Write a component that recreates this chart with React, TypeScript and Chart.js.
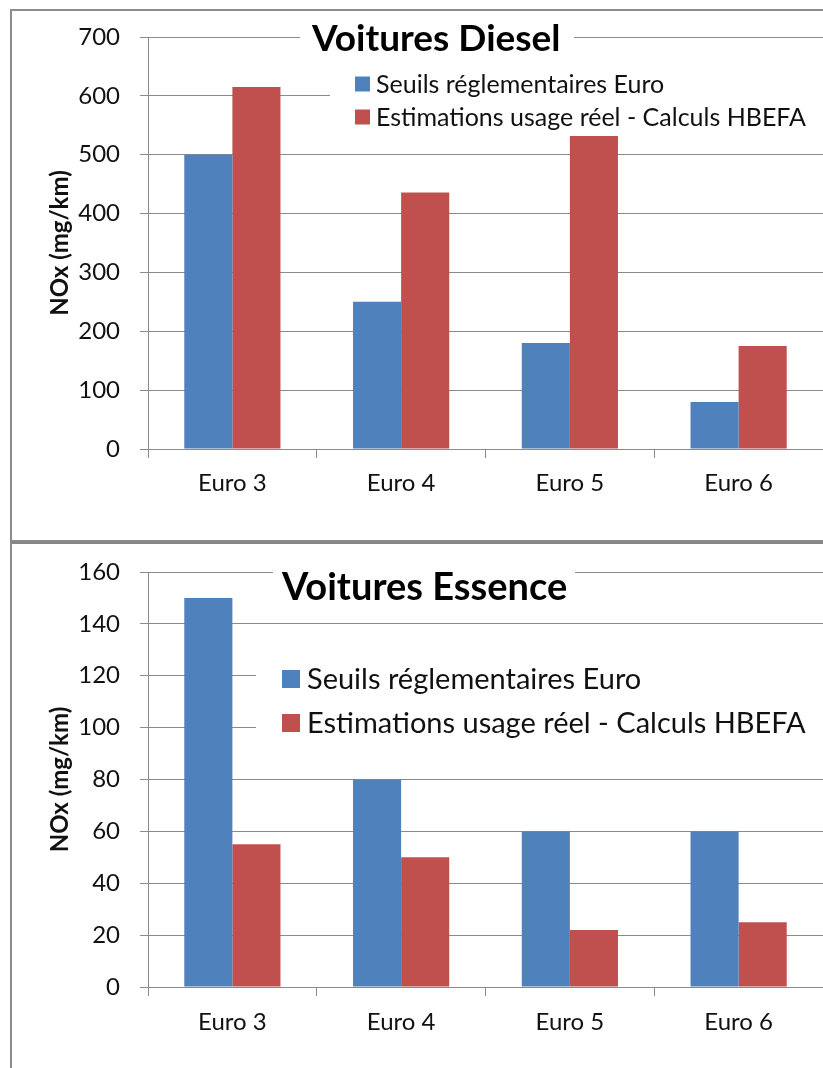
import React, { useEffect, useRef } from "react";
import { Chart, registerables } from "chart.js";

Chart.register(...registerables);

// ---- data ----
const categories = ["Euro 3", "Euro 4", "Euro 5", "Euro 6"];
const seriesNames = ["Seuils réglementaires Euro", "Estimations usage réel - Calculs HBEFA"];
const seriesColors = ["#4F81BD", "#C0504D"];
const dieselLimits = [500, 250, 180, 80];
const dieselReal = [615, 436, 532, 175];
const essenceLimits = [150, 80, 60, 60];
const essenceReal = [55, 50, 22, 25];
const dieselAxis = [0, 700, 100];
const essenceAxis = [0, 160, 20];
const axisTitle = "NOx (mg/km)";
const dieselTitle = "Voitures Diesel";
const essenceTitle = "Voitures Essence";

const FONT = "Lato, 'Noto Sans', sans-serif";
const GRID = "#8a8a8a";
const TEXT = "#111111";

type PanelProps = {
  canvasLeft: number;
  canvasTop: number;
  canvasWidth: number;
  canvasHeight: number;
  title: string;
  limits: number[];
  real: number[];
  axis: number[];
  plotTop: number;
  plotLeft: number;
  xHeight: number;
  xPad: number;
  titleBox: { x: number; y: number; w: number; h: number; tx: number; ty: number; size: number };
  legendBox: { x: number; y: number; w: number; h: number; sx: number; sq: number; ry: number; gap: number; tx: number; size: number };
};

function Panel(p: PanelProps) {
  const ref = useRef<HTMLCanvasElement>(null);
  useEffect(() => {
    if (!ref.current) return;
    const tb = p.titleBox;
    const lb = p.legendBox;
    const overlay = {
      id: "overlay",
      beforeDatasetsDraw(chart: any) {
        const ctx = chart.ctx as CanvasRenderingContext2D;
        ctx.save();
        ctx.fillStyle = "#ffffff";
        ctx.fillRect(tb.x, tb.y, tb.w, tb.h);
        ctx.fillRect(lb.x, lb.y, lb.w, lb.h);
        ctx.fillStyle = "#000000";
        ctx.font = `bold ${tb.size}px ${FONT}`;
        ctx.textBaseline = "alphabetic";
        ctx.textAlign = "left";
        ctx.fillText(p.title, tb.tx, tb.ty);
        ctx.font = `${lb.size}px ${FONT}`;
        ctx.textBaseline = "middle";
        chart.data.datasets.forEach((ds: any, i: number) => {
          const cy = lb.ry + i * lb.gap;
          ctx.fillStyle = ds.backgroundColor;
          ctx.fillRect(lb.sx, cy - lb.sq / 2, lb.sq, lb.sq);
          ctx.fillStyle = TEXT;
          ctx.fillText(ds.label, lb.tx, cy + 1);
        });
        ctx.restore();
      },
    };
    const chart = new Chart(ref.current, {
      type: "bar",
      data: {
        labels: categories,
        datasets: [
          {
            label: seriesNames[0],
            data: p.limits,
            backgroundColor: seriesColors[0],
            borderWidth: 0,
            categoryPercentage: 0.57,
            barPercentage: 1,
          },
          {
            label: seriesNames[1],
            data: p.real,
            backgroundColor: seriesColors[1],
            borderWidth: 0,
            categoryPercentage: 0.57,
            barPercentage: 1,
          },
        ],
      },
      options: {
        animation: false,
        responsive: false,
        maintainAspectRatio: false,
        devicePixelRatio: 1,
        layout: { padding: { top: p.plotTop, left: 0, right: 0, bottom: 0 } },
        plugins: {
          legend: { display: false },
          title: { display: false },
          tooltip: { enabled: false },
        },
        scales: {
          x: {
            offset: true,
            grid: {
              offset: true,
              drawOnChartArea: false,
              drawTicks: true,
              tickLength: 9,
              color: GRID,
            },
            border: { display: true, color: GRID, width: 1 },
            ticks: {
              font: { family: FONT, size: 24 },
              color: TEXT,
              padding: p.xPad,
              maxRotation: 0,
              autoSkip: false,
            },
            afterFit: (s: any) => {
              s.height = p.xHeight;
              s.paddingLeft = 0;
              s.paddingRight = 0;
            },
          },
          y: {
            min: p.axis[0],
            max: p.axis[1],
            ticks: {
              stepSize: p.axis[2],
              font: { family: FONT, size: 24 },
              color: TEXT,
              padding: 20,
            },
            grid: { color: GRID, tickLength: 8, drawTicks: true },
            border: { display: true, color: GRID, width: 1 },
            title: {
              display: true,
              text: axisTitle,
              font: { family: FONT, size: 24, weight: "bold" },
              color: TEXT,
              padding: { top: 33, bottom: 0 },
            },
            afterFit: (s: any) => {
              s.width = p.plotLeft;
              s.paddingTop = 0;
              s.paddingBottom = 0;
            },
          },
        },
      },
      plugins: [overlay],
    } as any);
    return () => chart.destroy();
  }, []);
  return (
    <canvas
      ref={ref}
      width={p.canvasWidth}
      height={p.canvasHeight}
      style={{
        position: "absolute",
        left: p.canvasLeft,
        top: p.canvasTop,
        width: p.canvasWidth,
        height: p.canvasHeight,
      }}
    />
  );
}

export default function App() {
  return (
    <div
      style={{
        position: "absolute",
        left: 0,
        top: 0,
        width: 823,
        height: 1068,
        overflow: "hidden",
        background: "#ffffff",
      }}
    >
      <div
        style={{
          position: "absolute",
          left: 10,
          top: 9,
          width: 900,
          height: 533,
          boxSizing: "border-box",
          border: "2px solid #8c8c8c",
        }}
      />
      <div
        style={{
          position: "absolute",
          left: 10,
          top: 541,
          width: 900,
          height: 600,
          boxSizing: "border-box",
          borderTop: "3px solid #878787",
          borderLeft: "2px solid #8c8c8c",
        }}
      />
      <Panel
        canvasLeft={13}
        canvasTop={11}
        canvasWidth={810}
        canvasHeight={529}
        title={dieselTitle}
        limits={dieselLimits}
        real={dieselReal}
        axis={dieselAxis}
        plotTop={26}
        plotLeft={135}
        xHeight={91}
        xPad={11}
        titleBox={{ x: 287, y: 3, w: 274, h: 48, tx: 299, ty: 40, size: 37 }}
        legendBox={{ x: 317, y: 55, w: 500, h: 68, sx: 342, sq: 15, ry: 73, gap: 33, tx: 363, size: 25 }}
      />
      <Panel
        canvasLeft={13}
        canvasTop={545}
        canvasWidth={810}
        canvasHeight={523}
        title={essenceTitle}
        limits={essenceLimits}
        real={essenceReal}
        axis={essenceAxis}
        plotTop={27}
        plotLeft={135}
        xHeight={81}
        xPad={12}
        titleBox={{ x: 260, y: 6, w: 302, h: 61, tx: 269, ty: 55, size: 38 }}
        legendBox={{ x: 243, y: 103, w: 600, h: 110, sx: 269, sq: 18, ry: 134, gap: 44, tx: 294, size: 29 }}
      />
    </div>
  );
}
